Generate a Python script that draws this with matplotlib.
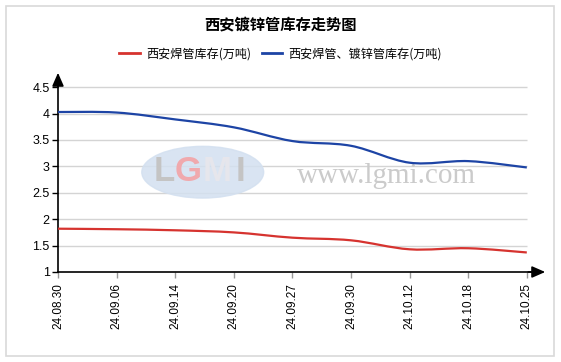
import numpy as np
import matplotlib
matplotlib.use("Agg")
import matplotlib.pyplot as plt
from matplotlib.path import Path
from matplotlib.patches import PathPatch, Ellipse, Rectangle
from matplotlib.lines import Line2D

plt.rcParams["font.family"] = ["Noto Sans CJK SC", "DejaVu Sans"]

# data
dates = ["24.08.30", "24.09.06", "24.09.14", "24.09.20", "24.09.27",
         "24.09.30", "24.10.12", "24.10.18", "24.10.25"]
welded = [1.82, 1.81, 1.79, 1.75, 1.65, 1.60, 1.43, 1.45, 1.37]
welded_galv = [4.03, 4.02, 3.89, 3.74, 3.48, 3.39, 3.07, 3.10, 2.98]
yticks = [1, 1.5, 2, 2.5, 3, 3.5, 4, 4.5]
ytick_labels = ["1", "1.5", "2", "2.5", "3", "3.5", "4", "4.5"]

title = "西安镀锌管库存走势图"
label_red = "西安焊管库存(万吨)"
label_blue = "西安焊管、镀锌管库存(万吨)"
red = "#d6332f"
blue = "#1d44a5"


def smooth_path(x, y):
    """Catmull-Rom style bezier through the points (drawing only)."""
    pts = np.column_stack([x, y]).astype(float)
    n = len(pts)
    verts = [pts[0]]
    codes = [Path.MOVETO]
    for i in range(n - 1):
        p0 = pts[max(i - 1, 0)]
        p1 = pts[i]
        p2 = pts[i + 1]
        p3 = pts[min(i + 2, n - 1)]
        c1 = p1 + (p2 - p0) / 6.0
        c2 = p2 - (p3 - p1) / 6.0
        verts += [c1, c2, p2]
        codes += [Path.CURVE4] * 3
    return Path(verts, codes)


fig = plt.figure(figsize=(5.61, 3.62), dpi=100)

# outer frame
fig.patches.append(Rectangle((6 / 561, 6 / 362), 548 / 561, 350 / 362,
                             transform=fig.transFigure, fill=False,
                             edgecolor="#d9d9d9", linewidth=1.2))

ax = fig.add_axes([58 / 561, 90 / 362, 482 / 561, 192 / 362])
x = np.arange(len(dates))
ax.set_xlim(0, 482 / 58.6)
ax.set_ylim(1, 1 + 192 / 52.8)

for s in ["top", "right"]:
    ax.spines[s].set_visible(False)
for s in ["left", "bottom"]:
    ax.spines[s].set_linewidth(1.2)

# gridlines
ax.hlines(yticks[1:], 0, x[-1], color="#d4d4d4", linewidth=1, zorder=0)

# watermark
ax.add_patch(Ellipse((2.47, 2.89), 2.08, 0.98, color="#d3e0f0", alpha=0.85, zorder=1))
for ch, cx, col in [("L", 1.82, "#c4c4c4"), ("G", 2.22, "#f0a9ad"),
                    ("M", 2.72, "#e6e6ec"), ("I", 3.12, "#c4c4c4")]:
    ax.text(cx, 2.90, ch, ha="center", va="center", fontsize=25,
            fontweight="bold", color=col, family="Liberation Sans", zorder=1)
ax.text(4.08, 2.82, "www.lgmi.com", ha="left", va="center", fontsize=21,
        color="#cbcbcb", family="Liberation Serif", zorder=1)

ax.add_patch(PathPatch(smooth_path(x, welded), fill=False, edgecolor=red,
                       linewidth=1.6, zorder=3))
ax.add_patch(PathPatch(smooth_path(x, welded_galv), fill=False, edgecolor=blue,
                       linewidth=1.6, zorder=3))

ax.set_yticks(yticks)
ax.set_yticklabels(ytick_labels, family="Liberation Sans", fontsize=9)
ax.set_xticks(x)
ax.set_xticklabels(dates, rotation=90, family="Liberation Sans", fontsize=8.5)
ax.tick_params(axis="y", length=4, width=1, pad=2)
ax.tick_params(axis="x", length=4, width=1, pad=4, color="#999999")

# axis arrows
ax.annotate("", xy=(1.0 + 8 / 482, 0), xytext=(0.97, 0), xycoords="axes fraction",
            arrowprops=dict(arrowstyle="-|>,head_length=0.8,head_width=0.35",
                            color="black", lw=1.2), annotation_clip=False)
ax.annotate("", xy=(0, 1.0 + 10 / 192), xytext=(0, 0.95), xycoords="axes fraction",
            arrowprops=dict(arrowstyle="-|>,head_length=0.8,head_width=0.35",
                            color="black", lw=1.2), annotation_clip=False)

fig.text(0.5, 1 - 24 / 362, title, ha="center", va="center", fontsize=11,
         fontweight="bold")

handles = [Line2D([], [], color=red, linewidth=2),
           Line2D([], [], color=blue, linewidth=2)]
fig.legend(handles, [label_red, label_blue], loc="center",
           bbox_to_anchor=(0.5, 1 - 54 / 362), ncol=2, frameon=False,
           fontsize=8.7, handlelength=1.7, handletextpad=0.5, columnspacing=0.9)

fig.savefig("out.png", dpi=100)
